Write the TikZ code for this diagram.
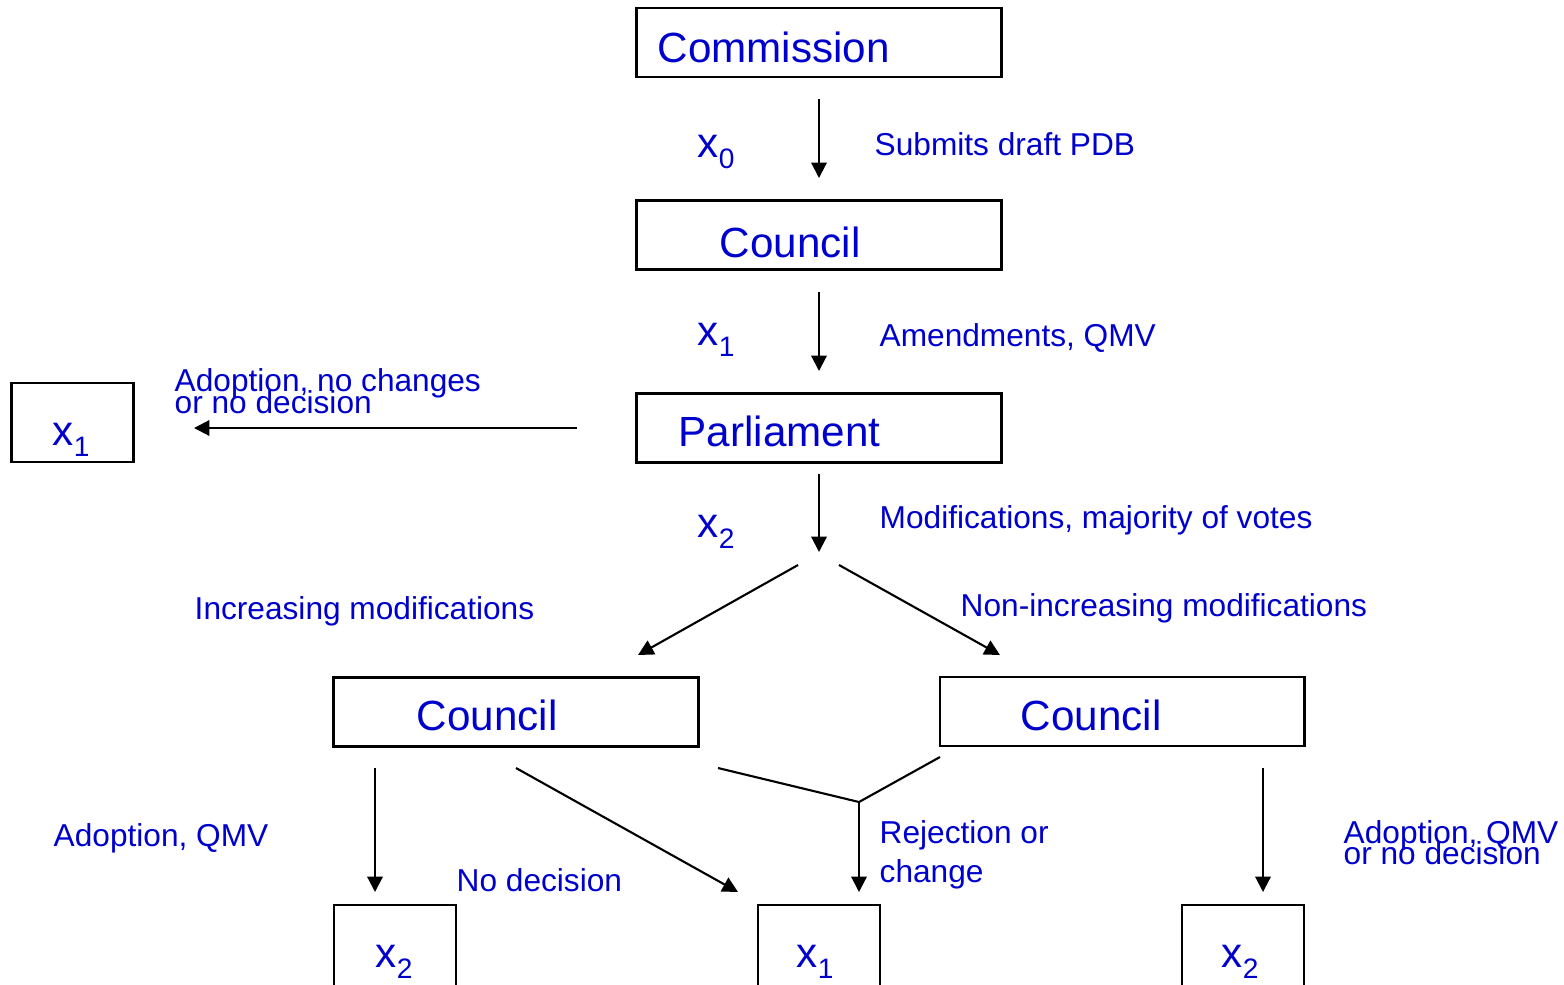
\documentclass[tikz,border=0pt]{standalone}
\usepackage{fontspec}
\setmainfont{Liberation Sans}
\usetikzlibrary{arrows.meta}
\definecolor{eublue}{RGB}{0,0,204}
\newcommand\lowsub[1]{\raisebox{-3.4pt}{\fontsize{8}{9}\selectfont #1}}
\tikzset{
  box/.style={draw, line width=0.8pt, inner sep=0pt},
  bigbox/.style={box, minimum width=3.64cm, minimum height=0.69cm},
  smallbox/.style={box, minimum width=1.22cm, minimum height=0.79cm},
  lowbox/.style={box, minimum width=1.22cm, minimum height=1cm},
  big/.style={text=eublue, font=\fontsize{12}{14}\selectfont, anchor=base west, inner sep=0pt},
  lbl/.style={text=eublue, font=\fontsize{9}{11}\selectfont, anchor=base west, inner sep=0pt},
  arr/.style={-{Triangle[length=4.4pt,width=4.4pt]}, line width=0.6pt}
}

\begin{document}
\begin{tikzpicture}[x=0.01cm, y=-0.01cm]
\useasboundingbox (0,0) rectangle (1564,984);

\node[bigbox] (commission) at (819,42.5) {};
\node[bigbox] (council) at (819,235) {};
\node[bigbox] (parliament) at (819,428) {};
\node[bigbox] (councilL) at (516,712) {};
\node[bigbox] (councilR) at (1122,711.5) {};
\node[smallbox] (out1) at (72.5,422.5) {};
\node[lowbox] (out2) at (395,955) {};
\node[lowbox] (out3) at (819,955) {};
\node[lowbox] (out4) at (1243,955) {};

\node[big] (tcommission) at (657,62) {Commission};
\node[big] (tcouncil) at (719,257) {Council};
\node[big] (tparliament) at (678,446) {Parliament};
\node[big] (tcouncilL) at (416,730) {Council};
\node[big] (tcouncilR) at (1020,730) {Council};
\node[big] (tout1) at (52,445) {x\lowsub{1}};
\node[big] (tout2) at (375,967) {x\lowsub{2}};
\node[big] (tout3) at (796,967) {x\lowsub{1}};
\node[big] (tout4) at (1221,967) {x\lowsub{2}};

\coordinate (a0) at (819,99);
\coordinate (b0) at (819,178);
\coordinate (a1) at (819,292);
\coordinate (b1) at (819,371);
\coordinate (a2) at (819,474);
\coordinate (b2) at (819,552);
\coordinate (a3) at (577,428);
\coordinate (b3) at (194,428);
\coordinate (sl) at (798,565);
\coordinate (tl) at (638,655);
\coordinate (sr) at (839,565);
\coordinate (tr) at (1000,655);
\coordinate (c1) at (375,768);
\coordinate (d1) at (375,892);
\coordinate (c2) at (516,768);
\coordinate (d2) at (738,892);
\coordinate (c3) at (718,768);
\coordinate (c4) at (940,757);
\coordinate (m) at (859,802);
\coordinate (d3) at (859,892);
\coordinate (c5) at (1263,768);
\coordinate (d5) at (1263,892);

\draw[arr] (a0)--(b0);
\draw[arr] (a1)--(b1);
\draw[arr] (a2)--(b2);
\draw[arr] (a3)--(b3);
\draw[arr] (sl)--(tl);
\draw[arr] (sr)--(tr);
\draw[arr] (c1)--(d1);
\draw[arr] (c2)--(d2);
\draw[line width=0.6pt] (c3)--(m)--(c4);
\draw[arr] (m)--(d3);
\draw[arr] (c5)--(d5);

\node[big] (x0) at (697,157) {x\lowsub{0}};
\node[big] (x1) at (697,345) {x\lowsub{1}};
\node[big] (x2) at (697,537) {x\lowsub{2}};

\node[lbl] (submits) at (874,155) {Submits draft PDB};
\node[lbl] (amend) at (879,346) {Amendments, QMV};
\node[lbl] (modif) at (879,528) {Modifications, majority of votes};
\node[lbl] (adopt1) at (174,391) {Adoption, no changes};
\node[lbl] (adopt1b) at (174,413) {or no decision};
\node[lbl] (incr) at (194,619) {Increasing modifications};
\node[lbl] (nonincr) at (960,616) {Non-increasing modifications};
\node[lbl] (adoptL) at (53,846) {Adoption, QMV};
\node[lbl] (nodec) at (456,891) {No decision};
\node[lbl] (reject) at (879,843) {Rejection or};
\node[lbl] (rejectb) at (879,882) {change};
\node[lbl] (adoptR) at (1343,843) {Adoption, QMV};
\node[lbl] (adoptRb) at (1343,864) {or no decision};
\end{tikzpicture}
\end{document}
